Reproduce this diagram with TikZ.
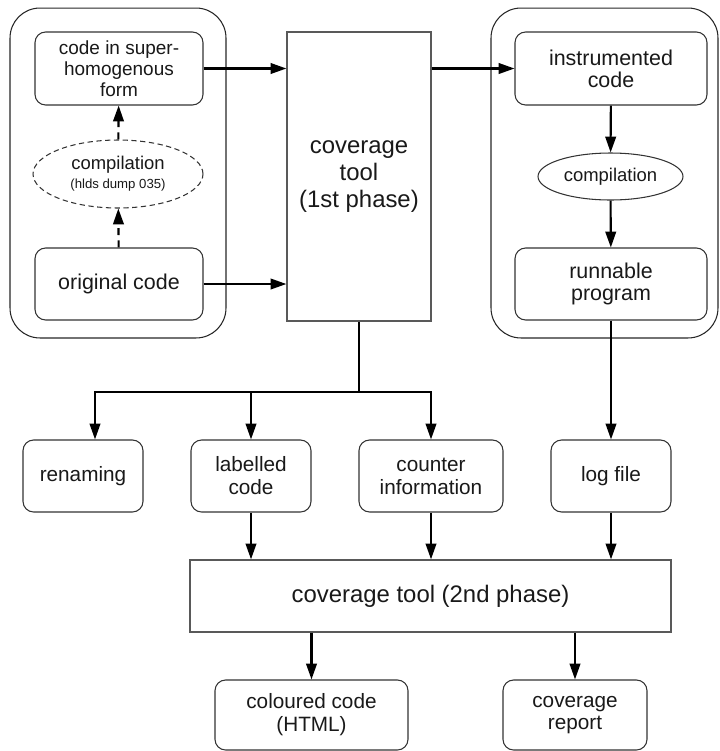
\documentclass[tikz,border=0pt]{standalone}
\usepackage{fontspec}
\setmainfont{Liberation Sans}
\usetikzlibrary{arrows.meta,shapes.geometric}

\begin{document}
\begin{tikzpicture}[x=0.02cm,y=-0.02cm,
		group_style/.style={rectangle,rounded corners=17pt,draw=black!85,line width=0.6pt,inner sep=0pt},
		box_style/.style={rectangle,rounded corners=6pt,draw=black!80,line width=0.6pt,fill=white,
			align=center,inner sep=0pt,text=black!90,font=\fontsize{11.8}{13}\selectfont},
		tool_style/.style={rectangle,draw=black!65,line width=0.7pt,fill=white,
			align=center,inner sep=0pt,text=black!90,font=\fontsize{13.6}{15.6}\selectfont},
		ell_style/.style={ellipse,draw=black!80,line width=0.6pt,fill=white,
			align=center,inner sep=0pt,text=black!90,font=\fontsize{10.5}{12}\selectfont},
		edge_style/.style={draw=black,line width=1.2pt,-{Triangle[length=9pt,width=6pt]}},
		dashed_edge_style/.style={edge_style,dash pattern=on 4pt off 3pt}]

		\useasboundingbox (0,0) rectangle (720,751);

		% the two groups
		\node[group_style,minimum width=4.32cm,minimum height=6.6cm] (gleft) at (118,173) {};
		\node[group_style,minimum width=4.54cm,minimum height=6.6cm] (gright) at (604.5,173) {};

		\node[box_style,font=\fontsize{10.8}{12}\selectfont,minimum width=3.36cm,minimum height=1.46cm] (shform) at (119,68.5)
			{code in super-\\homogenous\\form};
		\node[ell_style,dashed,dash pattern=on 3pt off 2pt,minimum width=3.4cm,minimum height=1.36cm] (hlds) at (118,174)
			{compilation\\[-1pt]{\fontsize{7.5}{9}\selectfont (hlds dump 035)}};
		\node[box_style,font=\fontsize{12.2}{13}\selectfont,minimum width=3.36cm,minimum height=1.44cm] (orig) at (119,284) {original code};

		\node[tool_style,minimum width=2.88cm,minimum height=5.78cm] (tool1) at (359,176.5) {coverage\\tool\\(1st phase)};

		\node[box_style,font=\fontsize{12.2}{12.6}\selectfont,minimum width=3.84cm,minimum height=1.46cm] (instr) at (611,68.5) {instrumented\\code};
		\node[ell_style,minimum width=2.9cm,minimum height=0.94cm] (comp) at (610.5,176.5) {compilation};
		\node[box_style,font=\fontsize{12.2}{12.6}\selectfont,minimum width=3.84cm,minimum height=1.44cm] (runnable) at (611,284) {runnable\\program};

		% outputs of the first phase
		\node[box_style,minimum width=2.4cm,minimum height=1.44cm] (renaming) at (83,476) {renaming};
		\node[box_style,minimum width=2.4cm,minimum height=1.44cm] (labelled) at (251,476) {labelled\\code};
		\node[box_style,minimum width=2.88cm,minimum height=1.44cm] (counter) at (431,476) {counter\\information};
		\node[box_style,minimum width=2.4cm,minimum height=1.44cm] (logfile) at (611,476) {log file};

		\node[tool_style,minimum width=9.62cm,minimum height=1.44cm] (tool2) at (430.5,596) {coverage tool (2nd phase)};

		\node[box_style,minimum width=3.86cm,minimum height=1.4cm] (coloured) at (311.5,715) {coloured code\\(HTML)};
		\node[box_style,minimum width=2.88cm,minimum height=1.4cm] (report) at (575,715) {coverage\\report};

		\coordinate (split) at (359,392);

		\draw[dashed_edge_style] (orig) -- (hlds);
		\draw[dashed_edge_style] (hlds) -- (shform);

		\draw[edge_style] (shform.east) -- (shform.east -| tool1.west);
		\draw[edge_style] (orig.east) -- (orig.east -| tool1.west);
		\draw[edge_style] (instr.west -| tool1.east) -- (instr.west);

		\draw[edge_style] (instr) -- (comp);
		\draw[edge_style] (comp) -- (runnable);
		\draw[edge_style] (runnable) -- (logfile);

		\draw[draw=black,line width=1.2pt] (tool1.south) -- (split);
		\draw[edge_style] (split) -| ([xshift=0.24cm]renaming.north);
		\draw[edge_style] (split) -| (labelled.north);
		\draw[edge_style] (split) -| (counter.north);

		\draw[edge_style] (labelled) -- (labelled.south |- tool2.north);
		\draw[edge_style] (counter) -- (counter.south |- tool2.north);
		\draw[edge_style] (logfile) -- (logfile.south |- tool2.north);

		\draw[edge_style] (coloured.north |- tool2.south) -- (coloured);
		\draw[edge_style] (report.north |- tool2.south) -- (report);

\end{tikzpicture}
\end{document}
